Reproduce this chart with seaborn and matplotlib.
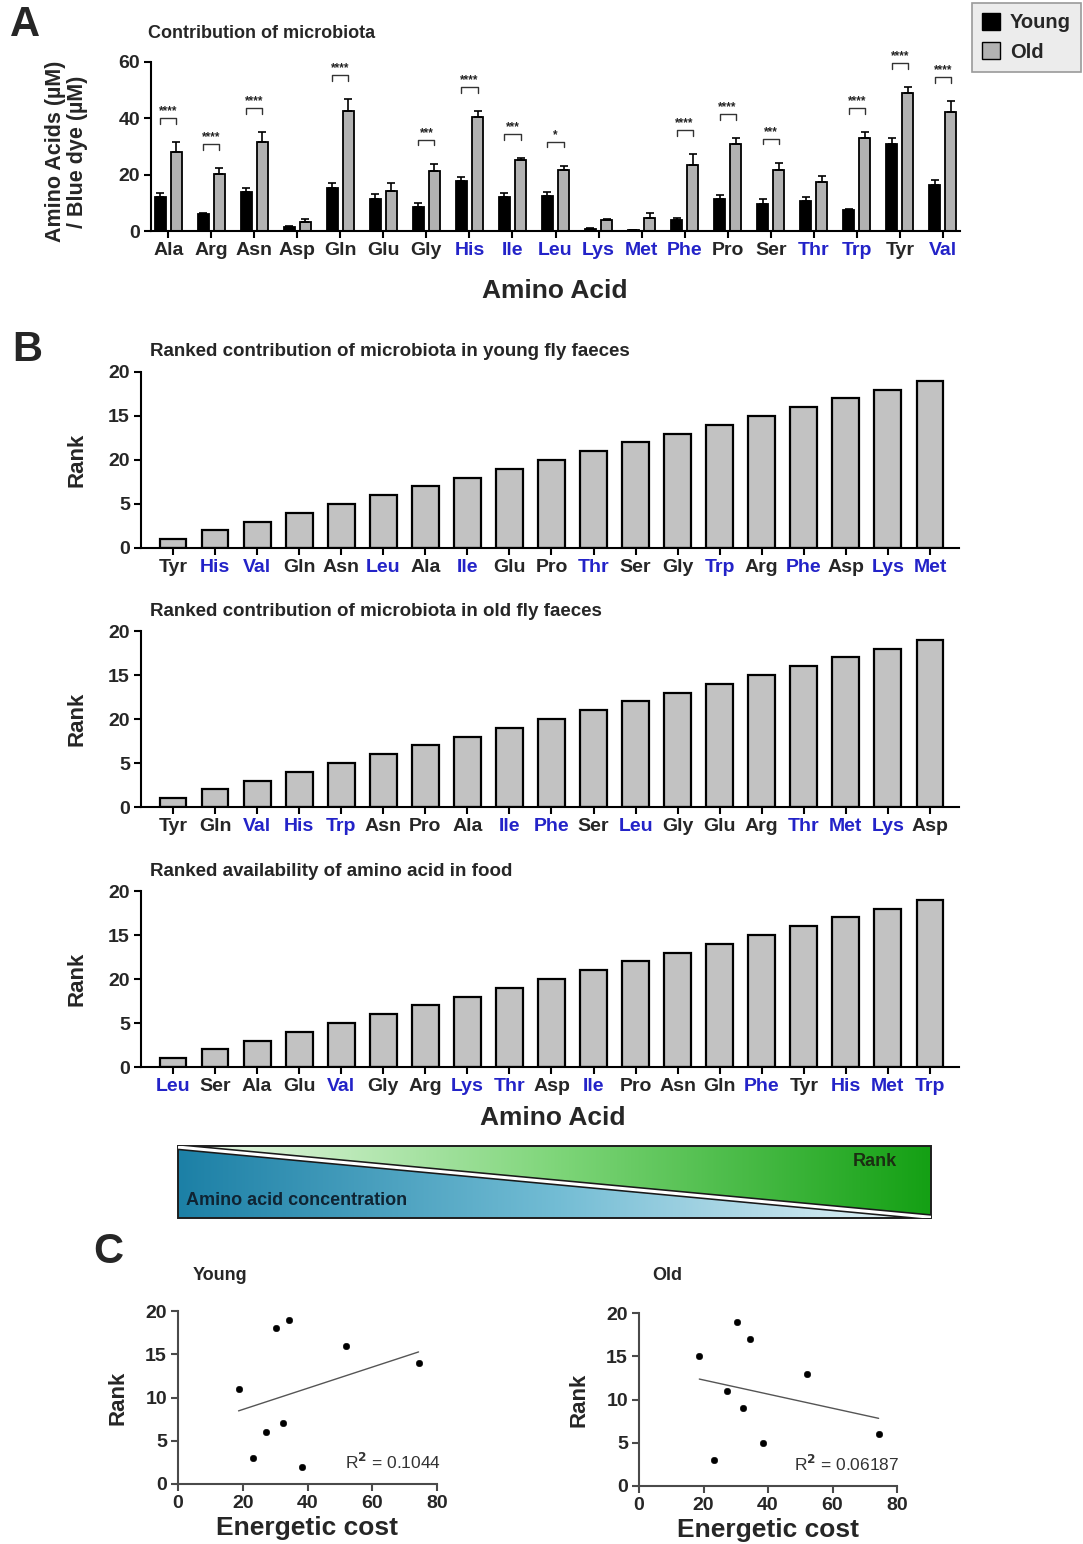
import matplotlib
matplotlib.use("Agg")
import matplotlib.pyplot as plt
from matplotlib.patches import Patch, Polygon
import pandas as pd
import seaborn as sns
import numpy as np


# data
amino_acids = ["Ala", "Arg", "Asn", "Asp", "Gln", "Glu", "Gly", "His", "Ile", "Leu",
               "Lys", "Met", "Phe", "Pro", "Ser", "Thr", "Trp", "Tyr", "Val"]
young_mean = [12.1, 5.9, 13.7, 1.5, 15.3, 11.3, 8.4, 17.7, 12.1, 12.5,
              0.8, 0.35, 4.0, 11.2, 9.5, 10.7, 7.4, 30.8, 16.3]
young_err = [1.4, 0.4, 1.6, 0.3, 1.6, 2.0, 1.5, 1.4, 1.4, 1.4,
             0.3, 0.1, 0.6, 1.5, 1.8, 1.3, 0.3, 2.1, 1.9]
old_mean = [28.1, 20.4, 31.6, 3.2, 42.6, 14.1, 21.3, 40.6, 25.2, 21.5,
            4.0, 4.6, 23.4, 30.8, 21.6, 17.5, 33.1, 48.9, 42.4]
old_err = [3.4, 2.0, 3.4, 1.2, 4.3, 3.0, 2.6, 2.0, 0.6, 1.7,
           0.4, 1.9, 4.0, 2.1, 2.7, 2.1, 1.9, 2.1, 3.8]
significance = ["****", "****", "****", "", "****", "", "***", "****", "***", "*",
                "", "", "****", "****", "***", "", "****", "****", "****"]

essential = ["His", "Ile", "Leu", "Lys", "Met", "Phe", "Thr", "Trp", "Val"]

young_rank_order = ["Tyr", "His", "Val", "Gln", "Asn", "Leu", "Ala", "Ile", "Glu", "Pro",
                    "Thr", "Ser", "Gly", "Trp", "Arg", "Phe", "Asp", "Lys", "Met"]
old_rank_order = ["Tyr", "Gln", "Val", "His", "Trp", "Asn", "Pro", "Ala", "Ile", "Phe",
                  "Ser", "Leu", "Gly", "Glu", "Arg", "Thr", "Met", "Lys", "Asp"]
food_rank_order = ["Leu", "Ser", "Ala", "Glu", "Val", "Gly", "Arg", "Lys", "Thr", "Asp",
                   "Ile", "Pro", "Asn", "Gln", "Phe", "Tyr", "His", "Met", "Trp"]
ranks = list(range(1, 20))
rank_tick_values = [0, 5, 10, 15, 20]
rank_tick_labels = ["0", "5", "20", "15", "20"]

# panel C: essential amino acids vs energetic cost
cost_names = ["Thr", "Val", "Leu", "Lys", "Ile", "Met", "His", "Phe", "Trp"]
energetic_cost = [18.7, 23.3, 27.3, 30.3, 32.3, 34.3, 38.3, 52.0, 74.3]
young_cost_rank = [11, 3, 6, 18, 7, 19, 2, 16, 14]
old_cost_rank = [15, 3, 11, 19, 9, 17, 5, 13, 6]
r2_young = "0.1044"
r2_old = "0.06187"

BLUE = "#2323c8"
FONT = ["Liberation Sans", "DejaVu Sans"]

sns.set_style("ticks")
plt.rcParams["font.family"] = FONT
plt.rcParams["font.weight"] = "bold"
plt.rcParams["axes.labelweight"] = "bold"


def px_axes(fig, left, top, right, bottom):
    W, H = 1083.0, 1544.0
    return fig.add_axes([left / W, 1 - bottom / H, (right - left) / W, (bottom - top) / H])


def style_axes(ax, color="black", lw=1.5):
    sns.despine(ax=ax)
    for s in ["left", "bottom"]:
        ax.spines[s].set_linewidth(lw)
        ax.spines[s].set_color(color)
    ax.tick_params(axis="both", direction="out", length=5, width=lw, color=color,
                   labelsize=14, pad=3)
    for lab in ax.get_xticklabels() + ax.get_yticklabels():
        lab.set_fontweight("bold")


def color_labels(ax):
    for lab in ax.get_xticklabels():
        if lab.get_text() in essential:
            lab.set_color(BLUE)


fig = plt.figure(figsize=(10.83, 15.44), dpi=100)

# ---------------- panel A ----------------
axA = px_axes(fig, 151, 62, 960, 231)
dfA = pd.DataFrame({
    "Amino Acid": amino_acids * 2,
    "Group": ["Young"] * len(amino_acids) + ["Old"] * len(amino_acids),
    "Value": young_mean + old_mean,
})
sns.barplot(data=dfA, x="Amino Acid", y="Value", hue="Group", order=amino_acids,
            hue_order=["Young", "Old"], palette={"Young": "black", "Old": "#b2b2b2"},
            width=0.75, gap=0.33, edgecolor="black", linewidth=1.3, errorbar=None,
            legend=False, ax=axA)
for cont, err in zip(axA.containers, [young_err, old_err]):
    xs = [p.get_x() + p.get_width() / 2 for p in cont]
    hs = [p.get_height() for p in cont]
    axA.errorbar(xs, hs, yerr=[np.zeros(len(err)), err], fmt="none", ecolor="black",
                 elinewidth=1.2, capsize=3, capthick=1.2)
# significance brackets
for i, sig in enumerate(significance):
    if not sig:
        continue
    x1 = axA.containers[0][i].get_x() + axA.containers[0][i].get_width() / 2
    x2 = axA.containers[1][i].get_x() + axA.containers[1][i].get_width() / 2
    h = max(young_mean[i] + young_err[i], old_mean[i] + old_err[i]) + 8.5
    axA.plot([x1, x1, x2, x2], [h - 2, h, h, h - 2], color="#333333", lw=1.0,
             clip_on=False)
    axA.text((x1 + x2) / 2, h + 0.3, sig, ha="center", va="bottom", fontsize=8.5,
             fontweight="bold", color="#222222")
axA.set_xlim(-0.4, 18.4)
axA.set_ylim(0, 60)
axA.set_yticks([0, 20, 40, 60])
axA.set_xlabel("")
axA.set_ylabel("Amino Acids (µM)\n/ Blue dye (µM)", fontsize=15.5, fontweight="bold",
               linespacing=1.05)
axA.yaxis.set_label_coords(-0.078, 0.47)
style_axes(axA)
color_labels(axA)
fig.text(555 / 1083, 1 - 291 / 1544, "Amino Acid", ha="center", va="center",
         fontsize=19, fontweight="bold")
fig.text(148 / 1083, 1 - 33 / 1544, "Contribution of microbiota", ha="left", va="center",
         fontsize=13, fontweight="bold")
fig.text(10 / 1083, 1 - 25 / 1544, "A", ha="left", va="center", fontsize=30,
         fontweight="bold")
leg = fig.legend(handles=[Patch(facecolor="black", edgecolor="black", label="Young"),
                          Patch(facecolor="#b2b2b2", edgecolor="black", label="Old")],
                 loc="upper right", bbox_to_anchor=(1081 / 1083, 1 - 3 / 1544),
                 borderaxespad=0.0,
                 prop={"weight": "bold", "size": 14.5, "family": FONT},
                 handlelength=0.9, handleheight=0.9, handletextpad=0.5,
                 labelspacing=0.5, borderpad=0.5, fancybox=False, framealpha=1)
leg.get_frame().set_facecolor("#ececec")
leg.get_frame().set_edgecolor("#9a9a9a")
leg.get_frame().set_linewidth(1.2)

# ---------------- panel B ----------------
b_titles = ["Ranked contribution of microbiota in young fly faeces",
            "Ranked contribution of microbiota in old fly faeces",
            "Ranked availability of amino acid in food"]
b_orders = [young_rank_order, old_rank_order, food_rank_order]
b_tops = [372, 631, 891]
for k, (title, order, top) in enumerate(zip(b_titles, b_orders, b_tops)):
    ax = px_axes(fig, 141, top, 959, top + 176)
    sns.barplot(x=order, y=ranks, order=order, color="#c2c2c2", saturation=1,
                edgecolor="black", linewidth=1.6, width=0.64, ax=ax)
    ax.set_xlim(-0.76, 18.69)
    ax.set_ylim(0, 20)
    ax.set_yticks(rank_tick_values)
    ax.set_yticklabels(rank_tick_labels)
    ax.set_ylabel("Rank", fontsize=16, fontweight="bold")
    ax.yaxis.set_label_coords(-0.065, 0.5)
    style_axes(ax)
    color_labels(ax)
    fig.text(150 / 1083, 1 - (top - 20) / 1544, title, ha="left", va="center",
             fontsize=13.5, fontweight="bold")
fig.text(553 / 1083, 1 - 1118 / 1544, "Amino Acid", ha="center", va="center",
         fontsize=19, fontweight="bold")
fig.text(12 / 1083, 1 - 350 / 1544, "B", ha="left", va="center", fontsize=30,
         fontweight="bold")

# gradient banner
axG = px_axes(fig, 178, 1146, 931, 1218)
axG.set_xlim(0, 1)
axG.set_ylim(0, 1)
axG.axis("off")
ramp = np.linspace(0, 1, 256)[None, :]
green = matplotlib.colors.LinearSegmentedColormap.from_list("g", ["#eef9ec", "#7fd67a", "#14a014"])
blue = matplotlib.colors.LinearSegmentedColormap.from_list("b", ["#1c80a6", "#72bcd4", "#eaf5f8"])
im_g = axG.imshow(ramp, cmap=green, extent=[0, 1, 0, 1], aspect="auto")
im_b = axG.imshow(ramp, cmap=blue, extent=[0, 1, 0, 1], aspect="auto")
tri_g = Polygon([[0, 1], [1, 1], [1, 0.02]], closed=True, transform=axG.transData)
tri_b = Polygon([[0, 0.98], [1, 0], [0, 0]], closed=True, transform=axG.transData)
im_g.set_clip_path(tri_g)
im_b.set_clip_path(tri_b)
axG.plot([0, 1], [0.985, 0.01], color="#1a1a1a", lw=4.5, solid_capstyle="butt")
axG.plot([0, 1], [0.985, 0.01], color="white", lw=2.2, solid_capstyle="butt")
axG.add_patch(matplotlib.patches.Rectangle((0, 0), 1, 1, fill=False, edgecolor="#1e1e1e",
                                           lw=1.4, clip_on=False))
axG.text(0.955, 0.79, "Rank", ha="right", va="center", fontsize=13, fontweight="bold",
         color="#1b2e12")
axG.text(0.01, 0.24, "Amino acid concentration", ha="left", va="center", fontsize=13,
         fontweight="bold", color="#0f2433")

# ---------------- panel C ----------------
c_axes = [(178, 1311, 437, 1484, "Young", young_cost_rank, r2_young, 193),
          (639, 1313, 897, 1486, "Old", old_cost_rank, r2_old, 652)]
for left, top, right, bottom, title, rank_vals, r2, tx in c_axes:
    ax = px_axes(fig, left, top, right, bottom)
    sns.regplot(x=energetic_cost, y=rank_vals, scatter=False, ci=None, truncate=True,
                line_kws={"color": "#555555", "lw": 1.0}, ax=ax)
    sns.scatterplot(x=energetic_cost, y=rank_vals, color="black", s=22,
                    edgecolor="black", ax=ax, zorder=3)
    ax.set_xlim(0, 80)
    ax.set_ylim(0, 20)
    ax.set_xticks([0, 20, 40, 60, 80])
    ax.set_yticks([0, 5, 10, 15, 20])
    ax.set_xlabel("Energetic cost", fontsize=19, fontweight="bold", labelpad=3)
    ax.set_ylabel("Rank", fontsize=16, fontweight="bold")
    ax.yaxis.set_label_coords(-0.19, 0.5)
    style_axes(ax, color="#4a4a4a")
    ax.text(0.645 if title == "Young" else 0.6, 0.125, f"R$^2$ = {r2}",
            transform=ax.transAxes, ha="left", va="center", fontsize=12.5,
            fontweight="normal", color="#333333", clip_on=False)
    fig.text(tx / 1083, 1 - 1276 / 1544, title, ha="left", va="center", fontsize=13,
             fontweight="bold")
fig.text(93 / 1083, 1 - 1252 / 1544, "C", ha="left", va="center", fontsize=30,
         fontweight="bold")

fig.savefig("out.png", dpi=100)
